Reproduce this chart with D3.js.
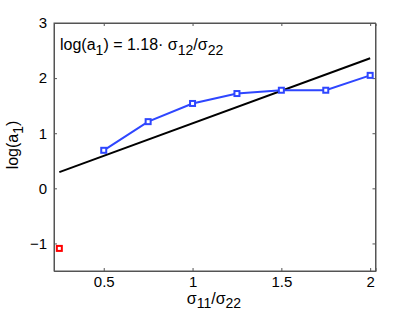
<!DOCTYPE html>
<html>
<head>
<meta charset="utf-8">
<script src="https://cdn.jsdelivr.net/npm/d3@7"></script>
<style>
  body { margin: 0; background: #fff; }
  text { font-family: "Liberation Sans", Arial, sans-serif; fill: #000; }
</style>
</head>
<body>
<div id="chart"></div>
<script>
// data
var ratio = [0.5, 0.75, 1, 1.25, 1.5, 1.75, 2];
var logA1 = [0.69, 1.21, 1.54, 1.72, 1.78, 1.78, 2.05];
var outlierX = [0.25];
var outlierY = [-1.09];
var fitX = [0.25, 2];
var fitSlope = 1.18;
var xTicks = [0.5, 1, 1.5, 2];
var yTicks = [-1, 0, 1, 2, 3];

var W = 415, H = 313;
var m = {left: 54, right: 39.5, top: 23, bottom: 42};

var svg = d3.select("#chart").append("svg")
  .attr("width", W).attr("height", H);

var x = d3.scaleLinear().domain([0.22, 2.03]).range([m.left, W - m.right]);
var y = d3.scaleLinear().domain([-1.5, 3]).range([H - m.bottom, m.top]);

var axCol = "#555";
var tl = 3;

// ticks on all four sides, pointing inward
var g = svg.append("g");
g.append("g").attr("transform", "translate(0," + (H - m.bottom) + ")")
  .call(d3.axisBottom(x).tickValues(xTicks).tickSize(-tl).tickPadding(5).tickFormat(d3.format("")));
g.append("g").attr("transform", "translate(0," + m.top + ")")
  .call(d3.axisTop(x).tickValues(xTicks).tickSize(-tl).tickFormat(""));
g.append("g").attr("transform", "translate(" + m.left + ",0)")
  .call(d3.axisLeft(y).tickValues(yTicks).tickSize(-tl).tickPadding(7).tickFormat(function(d){ return d < 0 ? "\u2212" + (-d) : d; }));
g.append("g").attr("transform", "translate(" + (W - m.right) + ",0)")
  .call(d3.axisRight(y).tickValues(yTicks).tickSize(-tl).tickFormat(""));
g.selectAll(".domain").attr("stroke", axCol).attr("stroke-width", 1);
g.selectAll(".tick line").attr("stroke", axCol);
g.selectAll(".tick text").attr("font-size", 15).attr("font-family", "Liberation Sans, Arial, sans-serif").attr("fill", "#000");

// box
svg.append("rect")
  .attr("x", m.left).attr("y", m.top)
  .attr("width", W - m.left - m.right).attr("height", H - m.top - m.bottom)
  .attr("fill", "none").attr("stroke", axCol).attr("stroke-width", 1);

// fitted line
svg.append("path")
  .datum(fitX)
  .attr("d", d3.line().x(function(d){ return x(d); }).y(function(d){ return y(fitSlope * d); }))
  .attr("fill", "none").attr("stroke", "#000").attr("stroke-width", 2);

// blue series
var pts = ratio.map(function(d, i){ return [d, logA1[i]]; });
svg.append("path")
  .datum(pts)
  .attr("d", d3.line().x(function(d){ return x(d[0]); }).y(function(d){ return y(d[1]); }))
  .attr("fill", "none").attr("stroke", "#2e46ff").attr("stroke-width", 2);
svg.selectAll(".mk").data(pts).enter().append("rect")
  .attr("x", function(d){ return x(d[0]) - 2.5; })
  .attr("y", function(d){ return y(d[1]) - 2.5; })
  .attr("width", 5).attr("height", 5)
  .attr("fill", "#fff").attr("stroke", "#2e46ff").attr("stroke-width", 2);

// red outlier
svg.selectAll(".out").data(outlierX).enter().append("rect")
  .attr("x", function(d){ return x(d) - 2.5; })
  .attr("y", function(d, i){ return y(outlierY[i]) - 2.5; })
  .attr("width", 5).attr("height", 5)
  .attr("fill", "#fff").attr("stroke", "#ff0000").attr("stroke-width", 2);

// annotation
var t = svg.append("text").attr("x", 60).attr("y", 50).attr("font-size", 16);
t.append("tspan").text("log(a");
t.append("tspan").attr("dy", 5).attr("font-size", 14).text("1");
t.append("tspan").attr("dy", -5).text(") = 1.18\u00b7 \u03c3");
t.append("tspan").attr("dy", 5).attr("font-size", 14).text("12");
t.append("tspan").attr("dy", -5).text("/\u03c3");
t.append("tspan").attr("dy", 5).attr("font-size", 14).text("22");

// x label
var xl = svg.append("text").attr("x", 214).attr("y", 304).attr("text-anchor", "middle").attr("font-size", 16);
xl.append("tspan").text("\u03c3");
xl.append("tspan").attr("dy", 4).attr("font-size", 14).text("11");
xl.append("tspan").attr("dy", -4).text("/\u03c3");
xl.append("tspan").attr("dy", 4).attr("font-size", 14).text("22");

// y label
var yl = svg.append("text").attr("transform", "translate(18," + 145 + ") rotate(-90)")
  .attr("text-anchor", "middle").attr("font-size", 16);
yl.append("tspan").text("log(a");
yl.append("tspan").attr("dy", 5).attr("font-size", 14).text("1");
yl.append("tspan").attr("dy", -5).text(")");
</script>
</body>
</html>
